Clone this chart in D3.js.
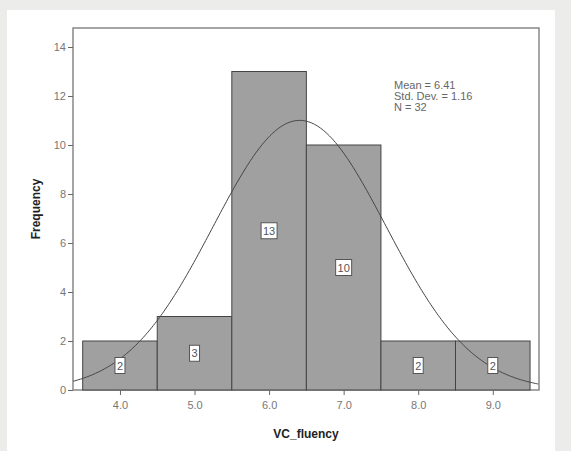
<!DOCTYPE html><html><head><script src="https://cdn.jsdelivr.net/npm/d3@7"></script>
<style>body{margin:0;background:#ececea;}text{font-family:Arial,"Liberation Sans",sans-serif;}</style></head><body>
<svg id="c" width="571" height="451"></svg>
<script>
const binStarts=[3.5,4.5,5.5,6.5,7.5,8.5];
const counts=[2,3,13,10,2,2];
const xTicks=[4,5,6,7,8,9];
const yTicks=[0,2,4,6,8,10,12,14];
const mean=6.41, sd=1.16, n=32;
const svg=d3.select("#c");
svg.append("rect").attr("x",7).attr("y",10).attr("width",548).attr("height",441).attr("fill","#fff");
const L=73,R=539,T=28,B=390;
const x=d3.scaleLinear().domain([3.37,9.62]).range([L,R]);
const y=d3.scaleLinear().domain([0,14]).range([B,47]);
svg.append("rect").attr("x",L).attr("y",T).attr("width",R-L).attr("height",B-T).attr("fill","none").attr("stroke","#888").attr("stroke-width",1.5);
svg.selectAll(".bar").data(counts).join("rect").attr("x",(d,i)=>x(binStarts[i])).attr("width",(d,i)=>x(binStarts[i]+1)-x(binStarts[i]))
 .attr("y",d=>y(d)).attr("height",d=>y(0)-y(d)).attr("fill","#a0a0a0").attr("stroke","#444").attr("stroke-width",1);
const pts=d3.range(3.37,9.621,0.02).map(v=>[v,n*1/(sd*Math.sqrt(2*Math.PI))*Math.exp(-0.5*((v-mean)/sd)**2)]);
svg.append("path").attr("d",d3.line().x(d=>x(d[0])).y(d=>y(d[1])).curve(d3.curveBasis)(pts)).attr("fill","none").attr("stroke","#444").attr("stroke-width",1);
counts.forEach((c,i)=>{const cx=x(binStarts[i]+0.5), cy=y(c/2);
 const w=String(c).length>1?16:10;
 svg.append("rect").attr("x",cx-w/2).attr("y",cy-8).attr("width",w).attr("height",16).attr("fill","#fff").attr("stroke","#555");
 svg.append("text").attr("x",cx).attr("y",cy+4).attr("text-anchor","middle").attr("font-size",11).attr("fill","#555").text(c);});
const xa=svg.append("g").attr("transform",`translate(0,${B})`).call(d3.axisBottom(x).tickValues(xTicks).tickFormat(d3.format(".1f")).tickSize(5).tickPadding(6));
const ya=svg.append("g").attr("transform",`translate(${L},0)`).call(d3.axisLeft(y).tickValues(yTicks).tickSize(5).tickPadding(2));
[xa,ya].forEach(a=>{a.select(".domain").remove();a.selectAll("line").attr("stroke","#666");a.selectAll("text").attr("fill","#777").attr("font-size",11).attr("font-family","Arial");});
svg.append("text").attr("x",306).attr("y",438).attr("text-anchor","middle").attr("font-size",12).attr("font-weight","bold").attr("fill","#222").text("VC_fluency");
svg.append("text").attr("transform","translate(40,209) rotate(-90)").attr("text-anchor","middle").attr("font-size",12).attr("font-weight","bold").attr("fill","#222").text("Frequency");
["Mean = 6.41","Std. Dev. = 1.16","N = 32"].forEach((t,i)=>svg.append("text").attr("x",394).attr("y",89+i*11).attr("font-size",11).attr("fill","#666").text(t));
</script></body></html>
